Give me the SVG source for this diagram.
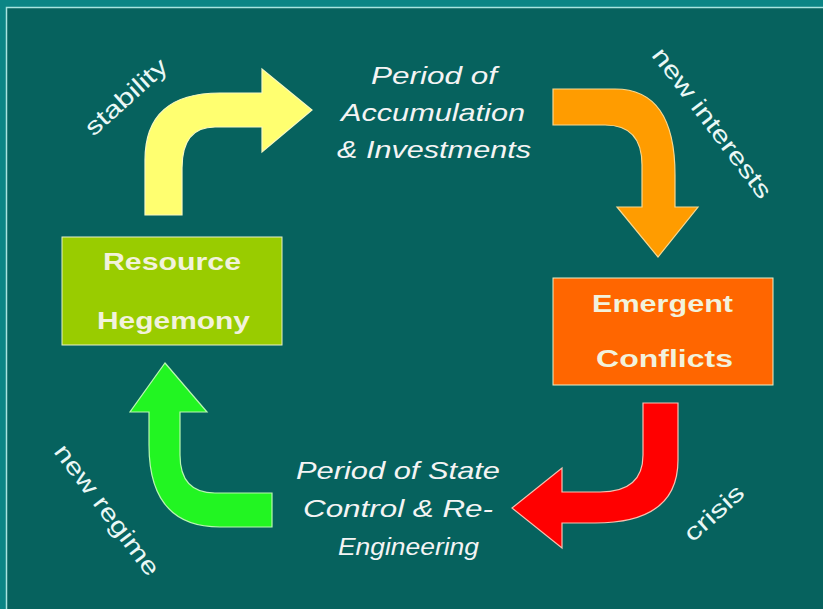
<svg xmlns="http://www.w3.org/2000/svg" width="823" height="609" viewBox="0 0 823 609">
<style>
.box{stroke:#e8f0c8;stroke-width:1}
.bt{font-family:"Liberation Sans",Arial,sans-serif;font-weight:bold;font-size:23px;fill:#f2f2dc;text-anchor:start}
.it{font-family:"Liberation Sans",Arial,sans-serif;font-style:italic;font-size:24px;fill:#f4f4f4;text-anchor:start}
.lb{font-family:"Liberation Sans",Arial,sans-serif;font-size:24px;fill:#eaf8f6;text-anchor:middle}
.arr{stroke-width:1.2;stroke-linejoin:miter}
</style>
<rect x="0" y="0" width="823" height="609" fill="#0b8585"/>
<rect x="6.5" y="7.5" width="830" height="620" fill="#06625e" stroke="#a8e4e0" stroke-width="1.5"/>

<g id="connectors">
  <path id="arrow-stability" class="arr" fill="#ffff70" stroke="#f8f8c0" d="M145,215 L145,160 Q145,93 220,93 L262,93 L262,69 L312,110 L262,152 L262,127 L215,127 Q182,127 182,168 L182,215 Z"/>
  <path id="arrow-new-interests" class="arr" fill="#ff9c00" stroke="#f8d890" d="M553,89 L615,89 Q675,89 675,175 L675,207 L698,207 L658,257 L617,207 L642,207 L642,165 Q642,125 605,125 L553,125 Z"/>
  <path id="arrow-crisis" class="arr" fill="#ff0000" stroke="#f8c0b0" d="M643,403 L678,403 L678,460 Q678,523 595,523 L562,523 L562,548 L512,508 L562,468 L562,492 L600,492 Q643,492 643,455 Z"/>
  <path id="arrow-new-regime" class="arr" fill="#22f522" stroke="#b8f8b0" d="M165,363 L207,412 L180,412 L180,455 Q180,493 215,493 L272,493 L272,527 L220,527 Q149,527 149,445 L149,412 L130,412 Z"/>
  <text class="lb" transform="translate(126,97) rotate(-42)" y="8" textLength="102" lengthAdjust="spacingAndGlyphs">stability</text>
  <text class="lb" transform="translate(712,123) rotate(53)" y="8" textLength="182" lengthAdjust="spacingAndGlyphs">new interests</text>
  <text class="lb" transform="translate(714,513) rotate(-42)" y="8" textLength="72" lengthAdjust="spacingAndGlyphs">crisis</text>
  <text class="lb" transform="translate(107,510) rotate(53)" y="8" textLength="158" lengthAdjust="spacingAndGlyphs">new regime</text>
</g>

<g id="resource-hegemony">
  <rect class="box" x="62" y="237" width="220" height="108" fill="#99cc00"/>
  <text class="bt" x="103" y="270" textLength="138" lengthAdjust="spacingAndGlyphs">Resource</text>
  <text class="bt" x="97" y="329" textLength="153" lengthAdjust="spacingAndGlyphs">Hegemony</text>
</g>

<g id="period-accumulation">
  <text class="it" x="371" y="84" textLength="126" lengthAdjust="spacingAndGlyphs">Period of</text>
  <text class="it" x="341" y="121" textLength="184" lengthAdjust="spacingAndGlyphs">Accumulation</text>
  <text class="it" x="337" y="158" textLength="194" lengthAdjust="spacingAndGlyphs">&amp; Investments</text>
</g>

<g id="emergent-conflicts">
  <rect class="box" x="553" y="278" width="220" height="107" fill="#ff6600"/>
  <text class="bt" x="592" y="312" textLength="141" lengthAdjust="spacingAndGlyphs">Emergent</text>
  <text class="bt" x="596" y="367" textLength="137" lengthAdjust="spacingAndGlyphs">Conflicts</text>
</g>

<g id="period-state-control">
  <text class="it" x="296" y="479" textLength="204" lengthAdjust="spacingAndGlyphs">Period of State</text>
  <text class="it" x="303" y="517" textLength="190" lengthAdjust="spacingAndGlyphs">Control &amp; Re-</text>
  <text class="it" x="338" y="555" textLength="141" lengthAdjust="spacingAndGlyphs">Engineering</text>
</g>
</svg>
